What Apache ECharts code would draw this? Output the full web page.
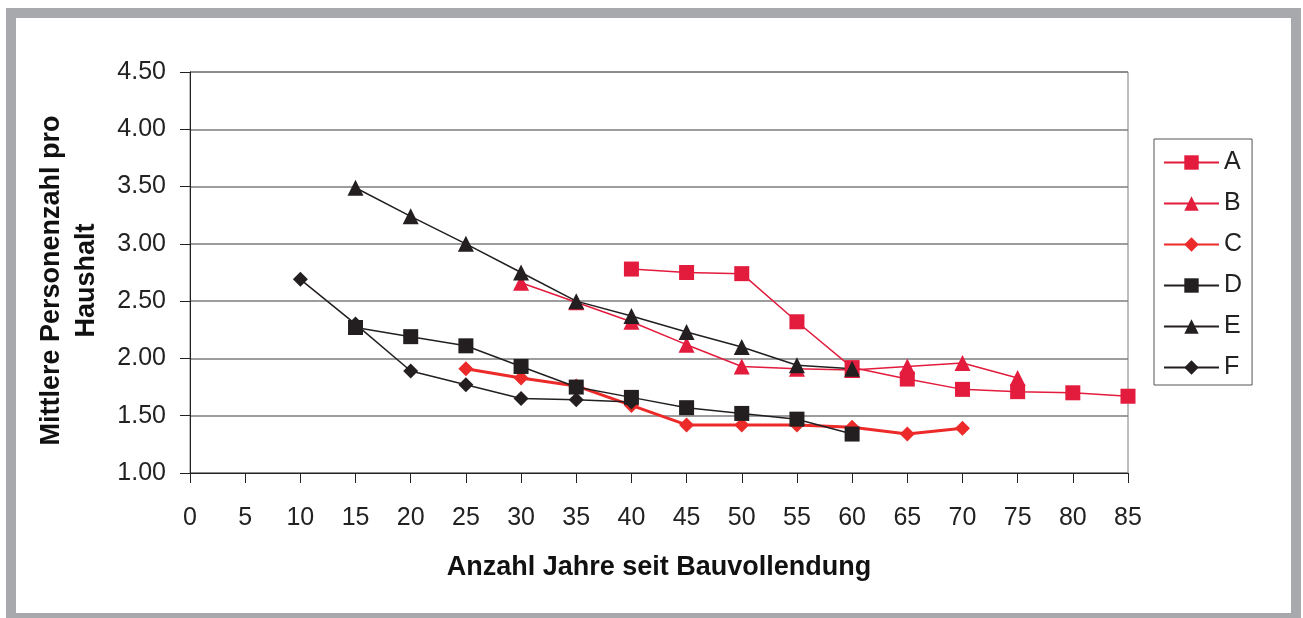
<!DOCTYPE html>
<html>
<head>
<meta charset="utf-8">
<script src="https://cdn.jsdelivr.net/npm/echarts@6/dist/echarts.min.js"></script>
<style>
html,body{margin:0;padding:0;background:#fff;}
#chart{width:1303px;height:618px;}
</style>
</head>
<body>
<div id="chart"></div>
<script>
// Data
const seriesNames = ['A','B','C','D','E','F'];
const xA = [40,45,50,55,60,65,70,75,80,85];
const yA = [2.78,2.75,2.74,2.32,1.92,1.82,1.73,1.71,1.70,1.67];
const xB = [30,35,40,45,50,55,60,65,70,75];
const yB = [2.66,2.49,2.32,2.12,1.93,1.91,1.90,1.93,1.96,1.83];
const xC = [25,30,35,40,45,50,55,60,65,70];
const yC = [1.91,1.83,1.76,1.59,1.42,1.42,1.42,1.40,1.34,1.39];
const xD = [15,20,25,30,35,40,45,50,55,60];
const yD = [2.27,2.19,2.11,1.93,1.75,1.66,1.57,1.52,1.47,1.34];
const xE = [15,20,25,30,35,40,45,50,55,60];
const yE = [3.49,3.24,3.00,2.75,2.50,2.37,2.23,2.10,1.94,1.91];
const xF = [10,15,20,25,30,35,40];
const yF = [2.69,2.30,1.89,1.77,1.65,1.64,1.62];
const xTitle = 'Anzahl Jahre seit Bauvollendung';
const yTitle = 'Mittlere Personenzahl pro\nHaushalt';

const pair = (xs, ys) => xs.map((x, i) => [x, ys[i]]);
const RED = '#e31b3c';
const RED2 = '#ec2a2a';
const BLK = '#231f20';
const FONT = 'Liberation Sans, Arial, sans-serif';

function mk(name, xs, ys, color, symbol, size, width) {
  return {
    name: name, type: 'line', data: pair(xs, ys),
    symbol: symbol, symbolSize: size,
    lineStyle: {color: color, width: width},
    itemStyle: {color: color},
    emphasis: {disabled: true},
    animation: false
  };
}

const chart = echarts.init(document.getElementById('chart'), null, {renderer: 'canvas'});
chart.setOption({
  animation: false,
  backgroundColor: '#fff',
  textStyle: {fontFamily: FONT},
  graphic: [{
    type: 'rect', silent: true, z: -10,
    shape: {x: 11, y: 13, width: 1285, height: 605},
    style: {fill: 'none', stroke: '#a7a9ac', lineWidth: 10}
  }],
  grid: {left: 190, right: 175, top: 72, bottom: 145, show: true, borderColor: '#7d7d7d', borderWidth: 1},
  legend: {
    orient: 'vertical', left: 1154, top: 139,
    data: seriesNames,
    itemWidth: 55, itemHeight: 18, itemGap: 16,
    padding: [11, 10, 5, 9],
    borderColor: '#555', borderWidth: 1,
    textStyle: {fontSize: 25, color: '#222', fontFamily: FONT, lineHeight: 25}
  },
  xAxis: {
    type: 'value', min: 0, max: 85, interval: 5,
    name: xTitle, nameLocation: 'middle', nameGap: 81,
    nameTextStyle: {fontSize: 27, fontWeight: 'bold', color: '#111'},
    axisLine: {show: true, onZero: false, lineStyle: {color: '#222', width: 1}},
    axisTick: {show: true, length: 10, lineStyle: {color: '#222'}},
    axisLabel: {fontSize: 25, color: '#222', margin: 33},
    splitLine: {show: false}
  },
  yAxis: {
    type: 'value', min: 1, max: 4.5, interval: 0.5,
    name: yTitle, nameLocation: 'middle', nameGap: 86, nameRotate: 90,
    nameTextStyle: {fontSize: 27, fontWeight: 'bold', color: '#111', lineHeight: 35, padding: [0, 16, 0, 0]},
    axisLine: {show: true, lineStyle: {color: '#222', width: 1}},
    axisTick: {show: true, length: 10, lineStyle: {color: '#222'}},
    axisLabel: {fontSize: 25, color: '#222', margin: 24, formatter: v => v.toFixed(2)},
    splitLine: {show: true, lineStyle: {color: '#7d7d7d', width: 1.5}}
  },
  series: [
    mk('A', xA, yA, RED, 'rect', 15, 1.5),
    mk('B', xB, yB, RED, 'triangle', 16, 1.5),
    mk('C', xC, yC, RED2, 'diamond', 15, 3),
    mk('D', xD, yD, BLK, 'rect', 15, 1.5),
    mk('E', xE, yE, BLK, 'triangle', 16, 1.5),
    mk('F', xF, yF, BLK, 'diamond', 15, 1.5)
  ]
});
</script>
</body>
</html>
